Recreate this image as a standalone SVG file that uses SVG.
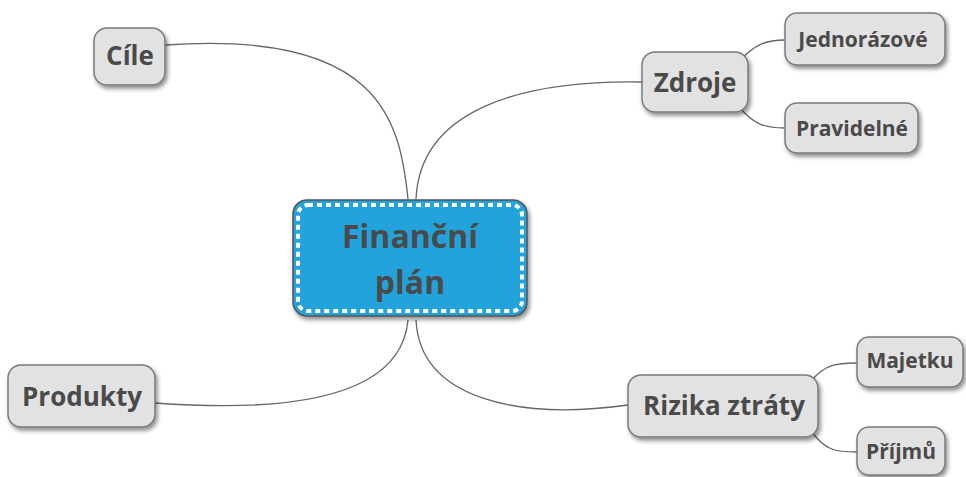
<svg xmlns="http://www.w3.org/2000/svg" width="966" height="477" viewBox="0 0 966 477">
<defs>
<filter id="sh" x="-20%" y="-20%" width="140%" height="150%">
<feDropShadow dx="2" dy="3" stdDeviation="2" flood-color="#000" flood-opacity="0.45"/>
</filter>
</defs>
<style>
.n{fill:#e2e2e2;stroke:#7a7a7a;stroke-width:1.5;filter:url(#sh)}
.t{font-family:"Open Sans","DejaVu Sans",sans-serif;font-weight:bold;fill:#4a4a4a;text-anchor:middle}
.c{fill:none;stroke:#666;stroke-width:1.3}
.l{font-size:26px}
.s{font-size:21px}
</style>
<rect width="966" height="477" fill="#fff"/>
<g id="connectors">
<path class="c" d="M165,45 C380,30 400,120 408,199"/>
<path class="c" d="M416,199 C420,110 520,80 642,82"/>
<path class="c" d="M408,320 C400,410 250,410 155,403"/>
<path class="c" d="M416,320 C420,400 520,420 628,405"/>
<path class="c" d="M740,60 C755,45 765,40 785,40"/>
<path class="c" d="M740,108 C755,125 765,128 785,128"/>
<path class="c" d="M812,380 C825,365 835,363 857,363"/>
<path class="c" d="M812,432 C825,450 835,452 857,452"/>
</g>
<g id="center">
<rect x="293" y="200" width="234" height="116" rx="14" fill="#21a3dc" stroke="#555" stroke-width="1.5" filter="url(#sh)"/>
<rect x="298" y="205" width="224" height="106" rx="10" fill="none" stroke="#fff" stroke-width="4" stroke-dasharray="5 4"/>
<text class="t" x="410" y="248" font-size="32">Finanční</text>
<text class="t" x="410" y="294" font-size="32">plán</text>
</g>
<g id="cile">
<rect class="n" x="94" y="28" width="71" height="57" rx="13"/>
<text class="t l" x="130" y="65">Cíle</text>
</g>
<g id="zdroje">
<rect class="n" x="642" y="52" width="106" height="60" rx="13"/>
<text class="t l" x="695" y="92">Zdroje</text>
</g>
<g id="jednorazove">
<rect class="n" x="785" y="13" width="160" height="52" rx="12"/>
<text class="t s" x="863" y="47">Jednorázové</text>
</g>
<g id="pravidelne">
<rect class="n" x="785" y="103" width="133" height="50" rx="12"/>
<text class="t s" x="852" y="136">Pravidelné</text>
</g>
<g id="produkty">
<rect class="n" x="8" y="365" width="147" height="62" rx="13"/>
<text class="t l" x="82" y="406">Produkty</text>
</g>
<g id="rizika">
<rect class="n" x="628" y="375" width="190" height="62" rx="13"/>
<text class="t l" x="724" y="415">Rizika ztráty</text>
</g>
<g id="majetku">
<rect class="n" x="857" y="337" width="106" height="50" rx="12"/>
<text class="t s" x="910" y="368">Majetku</text>
</g>
<g id="prijmu">
<rect class="n" x="857" y="427" width="88" height="48" rx="12"/>
<text class="t s" x="901" y="459">Příjmů</text>
</g>
</svg>
